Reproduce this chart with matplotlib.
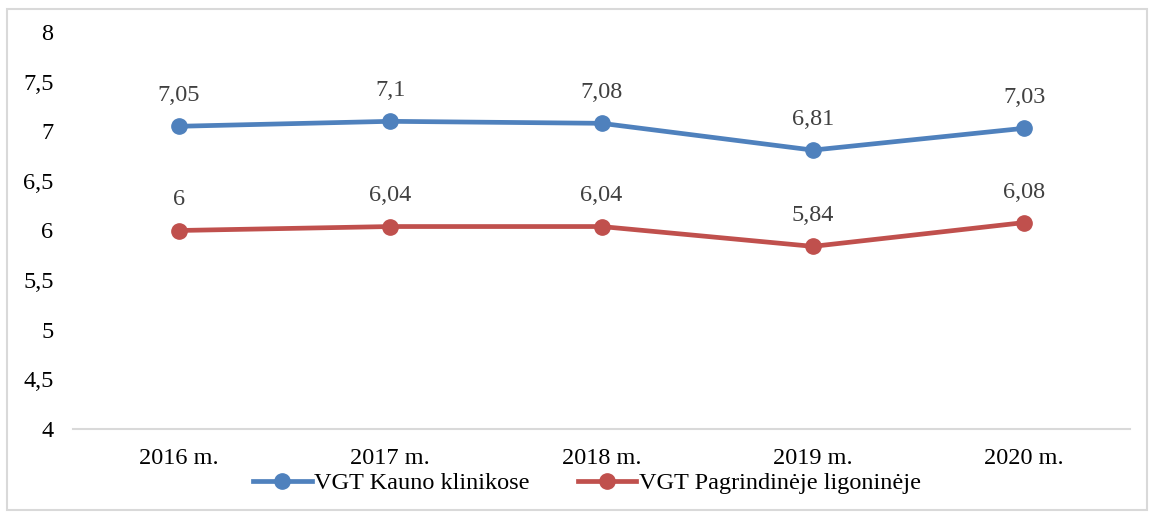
import matplotlib.pyplot as plt
from matplotlib.patches import Rectangle
from matplotlib.lines import Line2D

plt.rcParams['font.family'] = ['Liberation Serif', 'DejaVu Serif']

years = ['2016 m.', '2017 m.', '2018 m.', '2019 m.', '2020 m.']
kauno = [7.05, 7.1, 7.08, 6.81, 7.03]
pagr = [6, 6.04, 6.04, 5.84, 6.08]
names = ['VGT Kauno klinikose', 'VGT Pagrindinėje ligoninėje']
colors = ['#4F81BD', '#C0504D']

def fmt(v):
    s = ('%.2f' % v).rstrip('0').rstrip('.')
    return s.replace('.', ',')

fig = plt.figure(figsize=(11.5, 5.12), dpi=100)
ax = fig.add_axes([73/1150, 83/512, 1057/1150, 397/512])

x = range(len(years))
for vals, c, n in zip([kauno, pagr], colors, names):
    ax.plot(x, vals, color=c, lw=3.4, marker='o', ms=11, label=n)
    for xi, v in zip(x, vals):
        ax.annotate(fmt(v), (xi, v), xytext=(0, 22), textcoords='offset points',
                    ha='center', va='center', fontsize=17.5, color='#404040')

ax.set_xlim(-0.5, 4.5)
ax.set_ylim(4, 8)
ax.set_xticks(list(x))
ax.set_xticklabels(years)
yt = [4, 4.5, 5, 5.5, 6, 6.5, 7, 7.5, 8]
ax.set_yticks(yt)
ax.set_yticklabels([fmt(v) for v in yt])
ax.tick_params(axis='both', length=0, labelsize=17.5)
ax.tick_params(axis='x', pad=14)
ax.tick_params(axis='y', pad=14)
for s in ['top', 'right', 'left']:
    ax.spines[s].set_visible(False)
ax.spines['bottom'].set_color('#d9d9d9')
ax.spines['bottom'].set_linewidth(1.5)

handles = [Line2D([], [], color=c, lw=3.4, marker='o', ms=11) for c in colors]
fig.legend(handles, names, loc='center', bbox_to_anchor=(587/1150, 1 - 483/512),
           ncol=2, frameon=False, fontsize=17.5, handlelength=2.4,
           handletextpad=0.1, columnspacing=2.0)

fig.add_artist(Rectangle((7/1150, 2/512), 1140/1150, 501/512, transform=fig.transFigure,
                         fill=False, edgecolor='#d9d9d9', lw=1.5))

fig.savefig('out.png', dpi=100)
